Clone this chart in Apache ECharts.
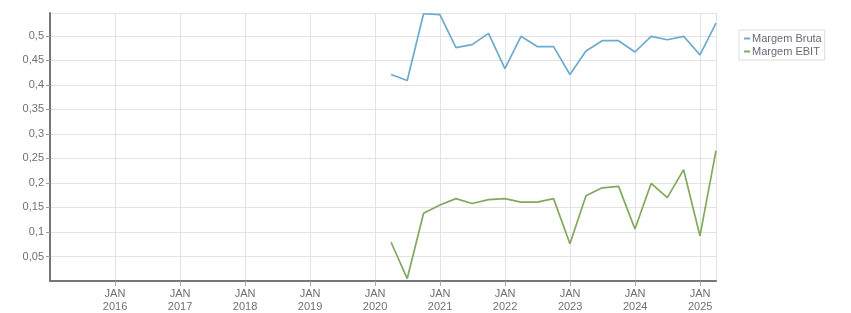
<!DOCTYPE html>
<html>
<head>
<meta charset="utf-8">
<script src="https://cdn.jsdelivr.net/npm/echarts@6/dist/echarts.min.js"></script>
<style>html,body{margin:0;padding:0;background:#fff}#c{width:851px;height:313px}</style>
</head>
<body>
<div id="c"></div>
<script>
const dates = ['2020-03-31','2020-06-30','2020-09-30','2020-12-31','2021-03-31','2021-06-30','2021-09-30','2021-12-31','2022-03-31','2022-06-30','2022-09-30','2022-12-31','2023-03-31','2023-06-30','2023-09-30','2023-12-31','2024-03-31','2024-06-30','2024-09-30','2024-12-31','2025-03-31'];
const margemBruta = [0.421,0.409,0.545,0.543,0.476,0.482,0.505,0.433,0.499,0.478,0.478,0.421,0.469,0.490,0.490,0.467,0.499,0.492,0.499,0.461,0.526];
const margemEbit = [0.079,0.005,0.138,0.155,0.168,0.158,0.166,0.168,0.161,0.161,0.168,0.076,0.174,0.190,0.193,0.106,0.199,0.170,0.227,0.092,0.266];
const seriesNames = ['Margem Bruta','Margem EBIT'];
const xStartYear = 2015;

function decYear(s){
  const d = new Date(s + 'T00:00:00Z');
  const y = d.getUTCFullYear();
  const start = Date.UTC(y,0,1), end = Date.UTC(y+1,0,1);
  return y + (d.getTime()-start)/(end-start);
}
const xs = dates.map(decYear);
const xMax = xs[xs.length-1];

const font = 'Liberation Sans';
const chart = echarts.init(document.getElementById('c'));
chart.setOption({
  animation:false,
  textStyle:{fontFamily:font},
  grid:{left:50,top:13,right:135,bottom:32},
  legend:{
    orient:'vertical', left:739, top:30,
    data:seriesNames,
    icon:'rect', itemWidth:6, itemHeight:2, itemGap:2,
    borderColor:'#dcdcdc', borderWidth:1, padding:[3,3,3,5],
    textStyle:{fontSize:11,color:'#6a6a78',fontFamily:font,padding:[0,0,0,-3]}
  },
  xAxis:{
    type:'value', min:xStartYear, max:xMax, interval:1,
    axisLine:{show:true,onZero:false,lineStyle:{color:'#777',width:2}},
    axisTick:{show:true,length:5,lineStyle:{color:'#aaa'}},
    splitLine:{show:true,lineStyle:{color:'#e3e3e3'}},
    axisLabel:{
      fontSize:11,color:'#707070',fontFamily:font,lineHeight:13,margin:6,
      showMinLabel:false,showMaxLabel:false,
      formatter:v=> (Math.abs(v-Math.round(v))<1e-6 && v>xStartYear) ? 'JAN\n'+Math.round(v) : ''
    }
  },
  yAxis:{
    type:'value', min:0, max:0.5465, interval:0.05,
    axisLine:{show:true,lineStyle:{color:'#777',width:2}},
    axisTick:{show:true,length:4,lineStyle:{color:'#999'}},
    splitLine:{show:true,lineStyle:{color:'#e3e3e3'}},
    axisLabel:{
      fontSize:11,color:'#707070',fontFamily:font,margin:6,
      showMinLabel:false,showMaxLabel:false,
      formatter:v=> v===0 ? '' : String(+v.toFixed(2)).replace('.',',')
    }
  },
  series:[
    {name:seriesNames[0],type:'line',symbol:'none',lineStyle:{width:1.7,color:'#6eaad0'},itemStyle:{color:'#6eaad0'},
     data:xs.map((x,i)=>[x,margemBruta[i]])},
    {name:seriesNames[1],type:'line',symbol:'none',lineStyle:{width:1.7,color:'#80a95d'},itemStyle:{color:'#80a95d'},
     data:xs.map((x,i)=>[x,margemEbit[i]])}
  ]
});
</script>
</body>
</html>
